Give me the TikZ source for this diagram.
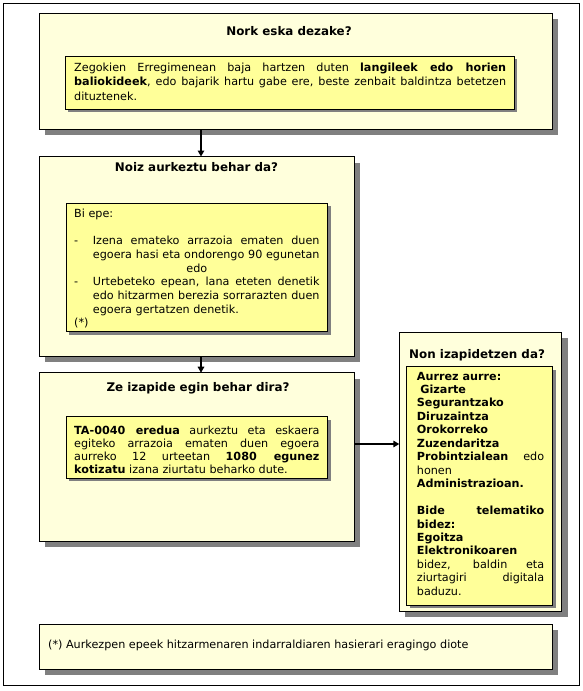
\documentclass[tikz,border=0pt]{standalone}
\usepackage{fontspec}
\setmainfont{DejaVu Sans}
\usetikzlibrary{shadows,arrows.meta}
\definecolor{outerfill}{HTML}{FFFFDC}
\definecolor{innerfill}{HTML}{FFFF99}
\definecolor{shadowgray}{HTML}{808080}
\hyphenpenalty=10000
\exhyphenpenalty=10000
\newcommand\nl{\hfil\break}
\newcommand\titfont{\fontsize{11.9}{14}\selectfont\bfseries}
\tikzset{
  framebox/.style={draw=black, line width=1pt, anchor=north west, inner sep=0pt, outer sep=0pt},
  outerbox/.style={draw=black, line width=1pt, fill=outerfill, anchor=north west, inner sep=0pt, outer sep=0pt,
    general shadow={fill=shadowgray, shadow xshift=6pt, shadow yshift=-6pt}},
  innerbox/.style={draw=black, line width=1pt, fill=innerfill, anchor=north west, inner sep=0pt, outer sep=0pt,
    general shadow={fill=shadowgray, shadow xshift=3pt, shadow yshift=-3pt}},
  boxtitle/.style={anchor=base, inner sep=0pt, font=\titfont},
  txt/.style={anchor=base west, inner sep=0pt, align=justify},
  arr/.style={line width=1.5pt, -{Triangle[length=6pt,width=6.5pt]}},
}
\begin{document}
\begin{tikzpicture}[x=1pt,y=-1pt]
\useasboundingbox (0,0) rectangle (583,691);
\node[framebox, minimum width=576pt, minimum height=682pt] (frame) at (3,3) {};

% Box 1
\node[outerbox, minimum width=513pt, minimum height=116pt] (b1) at (39,13) {};
\node[innerbox, minimum width=449pt, minimum height=53pt] (i1) at (65,56) {};
\node[boxtitle] (t1) at (289,35.5) {Nork eska dezake?};
\node[txt, text width=432pt, font=\fontsize{11.2}{14.2}\selectfont] (x1) at (74,71.6)
 {Zegokien Erregimenean baja hartzen duten \textbf{langileek edo horien}\linebreak
  \textbf{baliokideek}, edo bajarik hartu gabe ere, beste zenbait baldintza betetzen\linebreak
  dituztenek.};

% Box 2
\node[outerbox, minimum width=315pt, minimum height=199.5pt] (b2) at (39,156.5) {};
\node[innerbox, minimum width=261.7pt, minimum height=128.4pt] (i2) at (66,203.3) {};
\node[boxtitle] (t2) at (196.5,171.8) {Noiz aurkeztu behar da?};
\node[txt, text width=245.3pt, font=\fontsize{11.2}{13.7}\selectfont] (x2) at (74,217.3)
 {Bi epe:\par
  \mbox{}\par
  {\parfillskip=0pt\hangindent=18.7pt\hangafter=1\makebox[18.7pt][l]{-}Izena emateko arrazoia ematen duen\linebreak
  egoera hasi eta ondorengo 90 egunetan\par}
  {\centering edo\par}
  {\hangindent=18.7pt\hangafter=1\makebox[18.7pt][l]{-}Urtebeteko epean, lana eteten denetik\linebreak
  edo hitzarmen berezia sorrarazten duen\linebreak
  egoera gertatzen denetik.\par}
  (*)};

% Box 3
\node[outerbox, minimum width=315pt, minimum height=168.5pt] (b3) at (39,372.7) {};
\node[innerbox, minimum width=261.7pt, minimum height=61.6pt] (i3) at (66,416.7) {};
\node[boxtitle] (t3) at (198,391) {Ze izapide egin behar dira?};
\node[txt, text width=245.3pt, font=\fontsize{11.2}{12.9}\selectfont] (x3) at (74,434.7)
 {\textbf{TA-0040 eredua} aurkeztu eta eskaera\linebreak
  egiteko arrazoia ematen duen egoera\linebreak
  aurreko 12 urteetan \textbf{1080 egunez}\linebreak
  \textbf{kotizatu} izana ziurtatu beharko dute.};

% Box 4
\node[outerbox, minimum width=162.4pt, minimum height=278.7pt] (b4) at (399.3,332.3) {};
\node[innerbox, minimum width=146pt, minimum height=238.3pt] (i4) at (406.7,366.7) {};
\node[boxtitle, anchor=base west] (t4) at (409,358.8) {Non izapidetzen da?};
\node[txt, text width=127.3pt, font=\fontsize{11.2}{13.46}\selectfont] (x4) at (416.7,380)
 {\textbf{Aurrez aurre:}\nl
  \hspace*{3.5pt}\textbf{Gizarte}\nl
  \textbf{Segurantzako}\nl
  \textbf{Diruzaintza}\nl
  \textbf{Orokorreko}\nl
  \textbf{Zuzendaritza}\nl
  \textbf{Probintzialean} edo\linebreak
  honen\nl
  \textbf{Administrazioan.}\par
  \mbox{}\par
  \textbf{Bide telematiko}\linebreak
  \textbf{bidez:}\nl
  \textbf{Egoitza}\nl
  \textbf{Elektronikoaren}\nl
  bidez, baldin eta\linebreak
  ziurtagiri digitala\linebreak
  baduzu.};

% Footnote
\node[outerbox, minimum width=513pt, minimum height=45pt] (fn) at (39,624) {};
\node[anchor=base west, inner sep=0pt, font=\fontsize{11.2}{13}\selectfont] (xf) at (48,648)
 {(*) Aurkezpen epeek hitzarmenaren indarraldiaren hasierari eragingo diote};

% Connectors
\coordinate (ax) at (201,0);
\coordinate (ay) at (0,444);
\draw[arr] (b1.south -| ax) -- (b2.north -| ax);
\draw[arr] (b2.south -| ax) -- (b3.north -| ax);
\draw[arr] (b3.east |- ay) -- (b4.west |- ay);
\end{tikzpicture}
\end{document}
